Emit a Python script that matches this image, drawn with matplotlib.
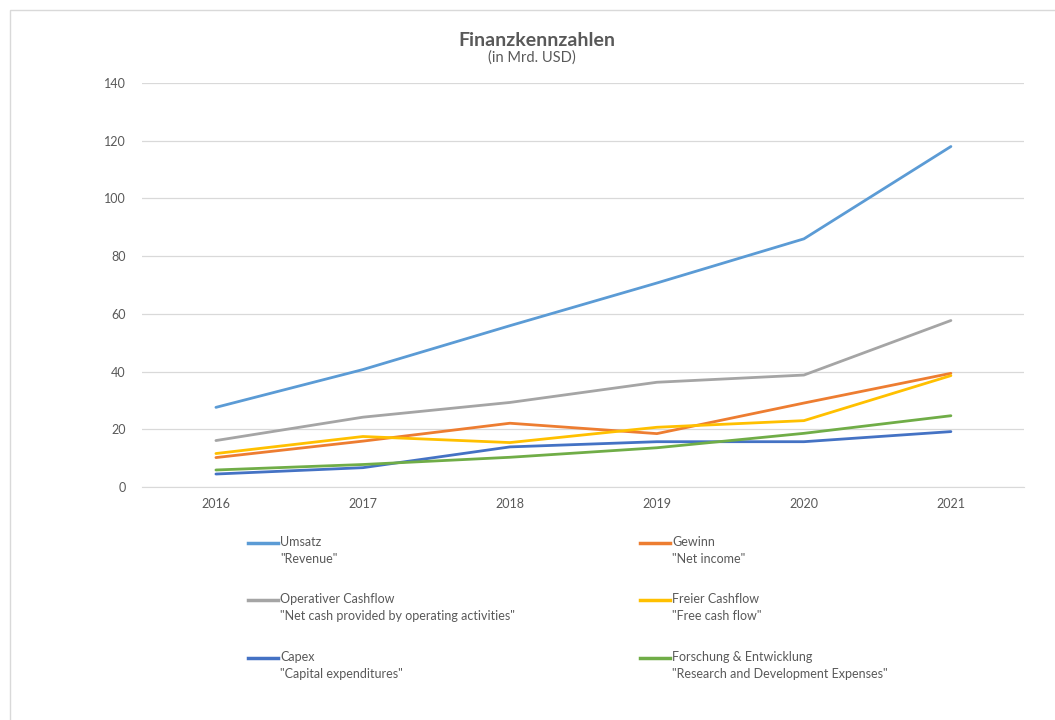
import matplotlib.pyplot as plt
from matplotlib.lines import Line2D
from matplotlib.patches import Rectangle

plt.rcParams['font.family'] = ['Lato', 'DejaVu Sans']

years = ["2016", "2017", "2018", "2019", "2020", "2021"]

umsatz = [27.6, 40.7, 55.9, 70.7, 86.0, 118.0]
gewinn = [10.2, 15.9, 22.1, 18.5, 29.1, 39.4]
op_cashflow = [16.1, 24.2, 29.3, 36.3, 38.8, 57.7]
free_cashflow = [11.6, 17.5, 15.4, 20.7, 23.0, 38.6]
capex = [4.5, 6.7, 13.9, 15.7, 15.7, 19.2]
research = [5.9, 7.8, 10.3, 13.6, 18.6, 24.7]

labels = [
    'Umsatz\n"Revenue"',
    'Gewinn\n"Net income"',
    'Operativer Cashflow\n"Net cash provided by operating activities"',
    'Freier Cashflow\n"Free cash flow"',
    'Capex\n"Capital expenditures"',
    'Forschung & Entwicklung\n"Research and Development Expenses"',
]
series = [umsatz, gewinn, op_cashflow, free_cashflow, capex, research]
colors = ["#5B9BD5", "#ED7D31", "#A5A5A5", "#FFC000", "#4472C4", "#70AD47"]

text_col = "#595959"
grid_col = "#D9D9D9"

fig = plt.figure(figsize=(10.55, 7.2), dpi=100)
fig.patches.append(Rectangle((10 / 1055, -0.1), 1.2, 1.1 - 10 / 720,
                             transform=fig.transFigure, fill=False,
                             edgecolor=grid_col, linewidth=1.0))

ax = fig.add_axes([0.135, 0.3236, 0.836, 0.5611])
x = list(range(len(years)))
for vals, col in zip(series, colors):
    ax.plot(x, vals, color=col, linewidth=2.0, solid_capstyle='round')

ax.set_xlim(-0.5, len(years) - 0.5)
ax.set_ylim(0, 140)
ax.set_yticks(range(0, 141, 20))
ax.set_xticks(x)
ax.set_xticklabels(years)
ax.grid(axis='y', color=grid_col, linewidth=0.9)
ax.set_axisbelow(True)
for s in ['top', 'right', 'left']:
    ax.spines[s].set_visible(False)
ax.spines['bottom'].set_color(grid_col)
ax.tick_params(axis='both', length=0, colors=text_col, labelsize=9)
ax.tick_params(axis='y', pad=12)
ax.tick_params(axis='x', pad=8)

fig.text(537 / 1055, 1 - 40 / 720, "Finanzkennzahlen",
         ha='center', va='center', fontsize=14, fontweight='bold', color=text_col)
fig.text(532 / 1055, 1 - 58 / 720, "(in Mrd. USD)",
         ha='center', va='center', fontsize=10.5, color=text_col)

# legend in two columns, handle next to the first line of each label
col_x = [248, 640]
row_y = [543, 600, 658]
for i, (lab, col) in enumerate(zip(labels, colors)):
    cx = col_x[i % 2]
    cy = row_y[i // 2]
    fig.add_artist(Line2D([cx / 1055, (cx + 30) / 1055], [1 - cy / 720, 1 - cy / 720],
                          transform=fig.transFigure, color=col, linewidth=2.5))
    fig.text((cx + 32) / 1055, 1 - (cy - 7) / 720, lab, ha='left', va='top',
             fontsize=9, color=text_col, linespacing=1.5)

fig.savefig("out.png", dpi=100)
